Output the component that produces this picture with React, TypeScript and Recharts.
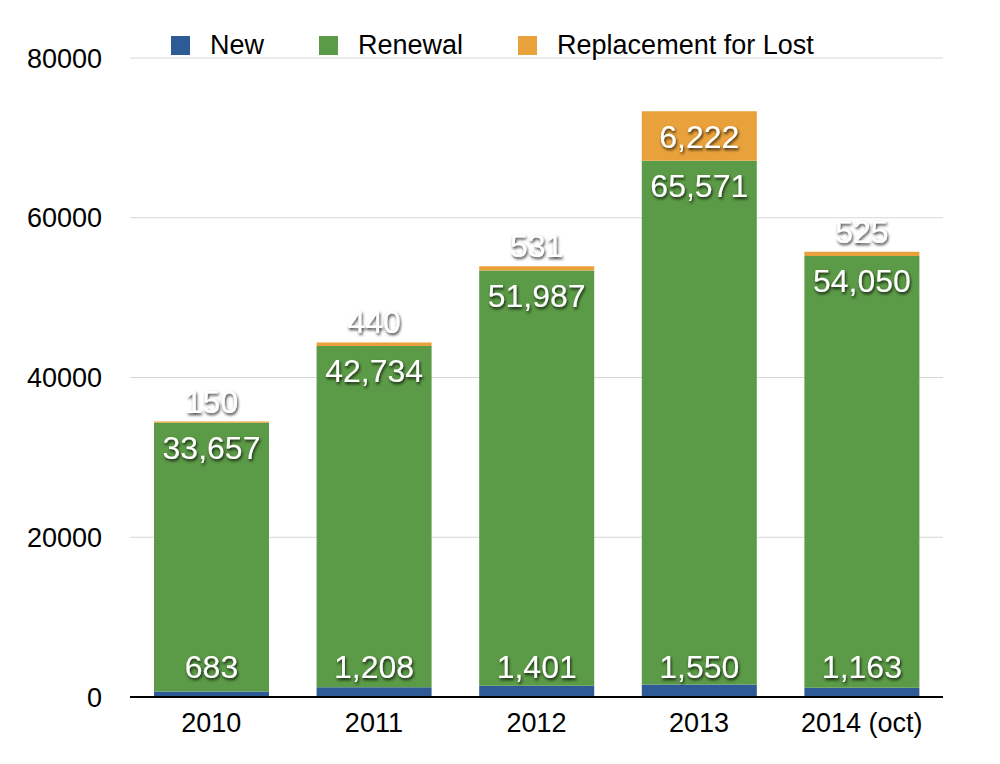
import React from 'react';
import { BarChart, Bar, XAxis, YAxis, CartesianGrid, LabelList } from 'recharts';

const years = ['2010', '2011', '2012', '2013', '2014 (oct)'];
const newCount = [683, 1208, 1401, 1550, 1163];
const renewal = [33657, 42734, 51987, 65571, 54050];
const lost = [150, 440, 531, 6222, 525];
const yTicks = [0, 20000, 40000, 60000, 80000];

const series = [
  { key: 'new', name: 'New', color: '#2e5b95' },
  { key: 'renewal', name: 'Renewal', color: '#5b9a46' },
  { key: 'lost', name: 'Replacement for Lost', color: '#e9a23b' },
];

const data = years.map((year, i) => ({
  year,
  new: newCount[i],
  renewal: renewal[i],
  lost: lost[i],
}));

const FONT = '"Liberation Sans", Arial, Helvetica, sans-serif';

const fmt = (v: number) => v.toLocaleString('en-US');

const makeLabel = (mode: 'bottom' | 'top' | 'auto') => (props: any) => {
  const { x, y, width, height, value } = props;
  let baseline: number;
  if (mode === 'bottom') baseline = y + height - 19;
  else if (mode === 'top') baseline = y + 36;
  else baseline = height > 40 ? y + 37 : y - 9;
  return (
    <text
      x={x + width / 2}
      y={baseline}
      textAnchor="middle"
      fill="#fff"
      fontSize={32}
      fontFamily={FONT}
      filter="url(#txtShadow)"
    >
      {fmt(value)}
    </text>
  );
};

export default function App() {
  return (
    <div style={{ position: 'absolute', left: 0, top: 0, width: 1000, height: 764, background: '#fff' }}>
      <BarChart
        width={1000}
        height={764}
        data={data}
        margin={{ top: 58, right: 57, left: 0, bottom: 0 }}
        barSize={115}
      >
        <defs>
          <filter id="txtShadow" x="-20%" y="-30%" width="140%" height="170%">
            <feDropShadow dx="1" dy="2" stdDeviation="1.4" floodColor="#000" floodOpacity="0.8" />
          </filter>
        </defs>
        <CartesianGrid vertical={false} stroke="#d6d6d6" />
        <XAxis
          dataKey="year"
          height={67}
          tickLine={false}
          tickSize={0}
          tickMargin={16}
          axisLine={{ stroke: '#000', strokeWidth: 2 }}
          tick={{ fill: '#000', fontSize: 27, fontFamily: FONT }}
        />
        <YAxis
          width={130}
          domain={[0, 80000]}
          ticks={yTicks}
          axisLine={false}
          tickLine={false}
          tickSize={0}
          tickMargin={28}
          tick={{ fill: '#000', fontSize: 27, fontFamily: FONT }}
        />
        <Bar dataKey="new" stackId="a" fill={series[0].color} isAnimationActive={false}>
          <LabelList dataKey="new" content={makeLabel('bottom')} />
        </Bar>
        <Bar dataKey="renewal" stackId="a" fill={series[1].color} isAnimationActive={false}>
          <LabelList dataKey="renewal" content={makeLabel('top')} />
        </Bar>
        <Bar dataKey="lost" stackId="a" fill={series[2].color} isAnimationActive={false}>
          <LabelList dataKey="lost" content={makeLabel('auto')} />
        </Bar>
      </BarChart>
      <div
        style={{
          position: 'absolute',
          top: 32,
          left: 171,
          display: 'flex',
          gap: 55,
          fontFamily: FONT,
          fontSize: 27,
          lineHeight: '26px',
          color: '#000',
        }}
      >
        {series.map((s) => (
          <div key={s.key} style={{ display: 'flex', alignItems: 'center' }}>
            <span style={{ width: 19, height: 19, background: s.color, marginRight: 20, display: 'inline-block' }} />
            <span>{s.name}</span>
          </div>
        ))}
      </div>
    </div>
  );
}
